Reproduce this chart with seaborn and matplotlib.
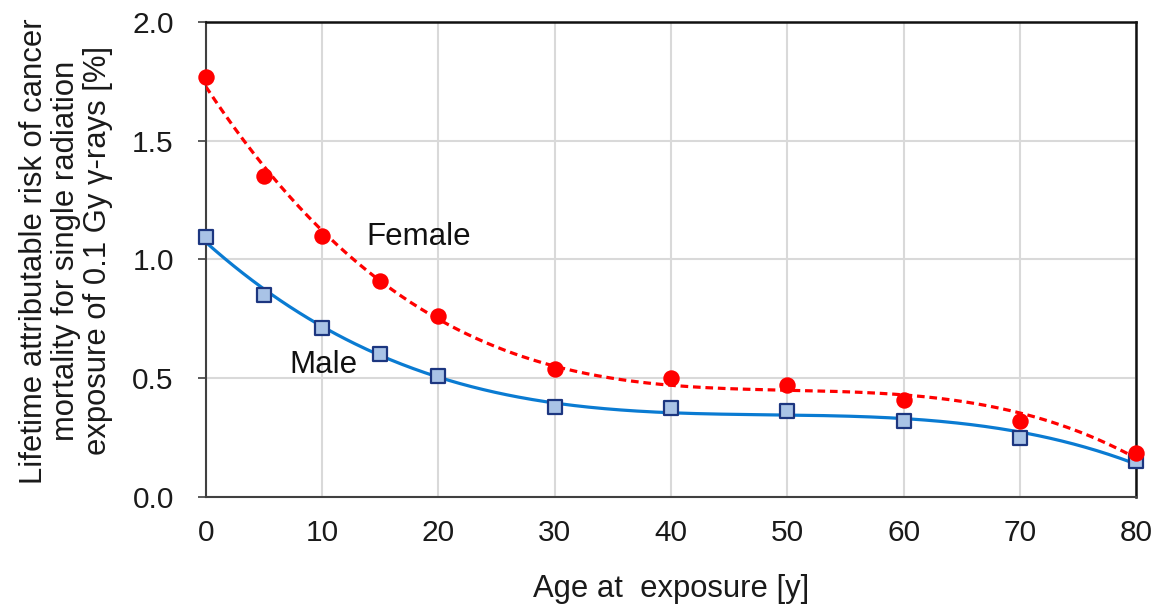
import numpy as np
import pandas as pd
import matplotlib
matplotlib.use("Agg")
import matplotlib.pyplot as plt
import seaborn as sns

# Age at exposure (years)
ages = [0, 5, 10, 15, 20, 30, 40, 50, 60, 70, 80]
# Lifetime attributable risk of cancer mortality [%]
female_risk = [1.77, 1.35, 1.10, 0.91, 0.76, 0.54, 0.50, 0.47, 0.41, 0.32, 0.185]
male_risk = [1.095, 0.85, 0.71, 0.60, 0.51, 0.38, 0.375, 0.36, 0.32, 0.25, 0.152]

x_ticks = [0, 10, 20, 30, 40, 50, 60, 70, 80]
y_ticks = [0.0, 0.5, 1.0, 1.5, 2.0]
y_tick_labels = ["0.0", "0.5", "1.0", "1.5", "2.0"]

sns.set_theme(style="white")
plt.rcParams["font.family"] = ["Liberation Sans", "DejaVu Sans"]

points = pd.DataFrame({"age": ages, "female": female_risk, "male": male_risk})

# Cubic polynomial trend lines through each series
grid = np.linspace(0, 80, 400)
fit_f = np.polyval(np.polyfit(ages, female_risk, 3), grid)
fit_m = np.polyval(np.polyfit(ages, male_risk, 3), grid)
trend = pd.DataFrame({"age": grid, "female": fit_f, "male": fit_m})

fig = plt.figure(figsize=(11.56, 6.09), dpi=100)
ax = fig.add_axes([0.178, 0.184, 0.805, 0.780])

male_line = "#0a7bd2"
female_color = "#ff0000"

sns.lineplot(data=trend, x="age", y="male", ax=ax, color=male_line, lw=2.3, zorder=3)
sns.lineplot(data=trend, x="age", y="female", ax=ax, color=female_color, lw=2.3,
             linestyle=(0, (2.4, 1.5)), zorder=3)

sns.scatterplot(data=points, x="age", y="male", ax=ax, marker="s", s=100,
                color="#a9c3e6", edgecolor="#1c3680", linewidth=1.6, zorder=4, clip_on=False)
sns.scatterplot(data=points, x="age", y="female", ax=ax, marker="o", s=140,
                color=female_color, edgecolor=female_color, linewidth=0, zorder=5, clip_on=False)

ax.set_xlim(0, 80)
ax.set_ylim(0, 2.0)
ax.set_xticks(x_ticks)
ax.set_yticks(y_ticks)
ax.set_yticklabels(y_tick_labels)
ax.grid(True, color="#d9d9d9", lw=1.5)
ax.set_axisbelow(True)

for side in ["left", "bottom"]:
    ax.spines[side].set_color("#404040")
    ax.spines[side].set_linewidth(1.5)
for side in ["top", "right"]:
    ax.spines[side].set_color("#111111")
    ax.spines[side].set_linewidth(1.8)

ax.tick_params(axis="y", which="both", left=True, length=6, width=1.2, color="#404040",
               labelsize=21.5, pad=17, labelcolor="#1a1a1a")
ax.tick_params(axis="x", bottom=False, labelsize=21.5, pad=10, labelcolor="#1a1a1a")

ax.set_xlabel("Age at  exposure [y]", fontsize=22.3, labelpad=19, color="#1a1a1a")
ax.set_ylabel("Lifetime attributable risk of cancer\nmortality for single radiation\n"
              "exposure of 0.1 Gy \u03b3-rays [%]", fontsize=22.3, labelpad=14,
              color="#1a1a1a", linespacing=1.08, y=0.518)

ax.text(13.8, 1.095, "Female", fontsize=22.5, va="center", ha="left", color="#111111")
ax.text(7.2, 0.556, "Male", fontsize=22.5, va="center", ha="left", color="#111111")

fig.savefig("out.png", dpi=100)
